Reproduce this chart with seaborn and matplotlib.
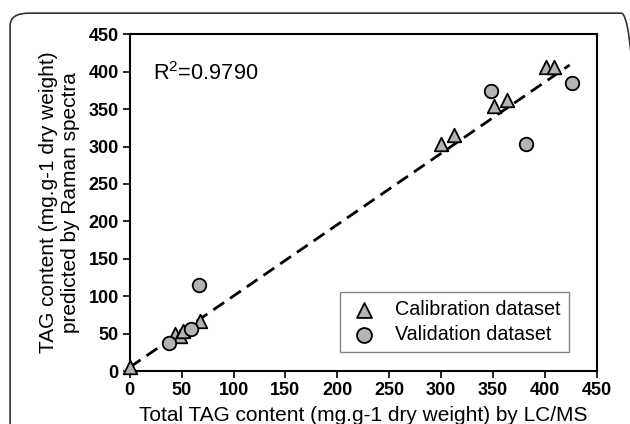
import numpy as np
import pandas as pd
import seaborn as sns
import matplotlib.pyplot as plt
from matplotlib.patches import FancyBboxPatch

# valores (LC/MS x Raman)
calib_x = [0, 44, 48, 51, 68, 300, 313, 351, 364, 401, 409]
calib_y = [5, 50, 47, 53, 67, 304, 315, 354, 362, 406, 406]
valid_x = [38, 59, 67, 348, 382, 426]
valid_y = [38, 56, 115, 374, 303, 385]
# reta de ajuste (extremos)
fit_x = [0, 424]
fit_y = [5, 409]
r2_text = "R$^2$=0.9790"

sns.set_style('ticks')
plt.rcParams['font.family'] = ['Liberation Sans', 'DejaVu Sans']
plt.rcParams['mathtext.fontset'] = 'custom'
plt.rcParams['mathtext.rm'] = 'Liberation Sans'
for k in ['text.color', 'axes.labelcolor', 'xtick.color', 'ytick.color']:
    plt.rcParams[k] = 'black'

fig = plt.figure(figsize=(6.3, 4.24), dpi=100)
ax = fig.add_axes([0.206, 0.125, 0.741, 0.794])

calib = pd.DataFrame({'x': calib_x, 'y': calib_y})
valid = pd.DataFrame({'x': valid_x, 'y': valid_y})
fit = pd.DataFrame({'x': fit_x, 'y': fit_y})

sns.lineplot(data=fit, x='x', y='y', ax=ax, color='black', lw=2.0,
             linestyle=(0, (4.7, 2.6)), zorder=2)
sns.scatterplot(data=calib, x='x', y='y', ax=ax, marker='^', s=95,
                color='#b3b3b3', edgecolor='black', linewidth=1.3,
                label='Calibration dataset', zorder=3, clip_on=False)
sns.scatterplot(data=valid, x='x', y='y', ax=ax, marker='o', s=95,
                color='#b3b3b3', edgecolor='black', linewidth=1.3,
                label='Validation dataset', zorder=3, clip_on=False)

ax.set_xlim(0, 450)
ax.set_ylim(0, 450)
ax.set_xticks(np.arange(0, 451, 50))
ax.set_yticks(np.arange(0, 451, 50))
for s in ax.spines.values():
    s.set_linewidth(1.5)
    s.set_color('black')
ax.tick_params(direction='out', length=5, width=1.2, labelsize=13, pad=3)
for t in ax.get_xticklabels() + ax.get_yticklabels():
    t.set_fontweight('bold')

ax.set_xlabel('Total TAG content (mg.g-1 dry weight) by LC/MS', fontsize=15, labelpad=5)
ax.set_ylabel('TAG content (mg.g-1 dry weight)\npredicted by Raman spectra', fontsize=15, labelpad=6)

ax.text(0.049, 0.864, r2_text, transform=ax.transAxes, fontsize=15.7, va='baseline')

leg = ax.legend(loc='upper left', bbox_to_anchor=(0.540, 0.311), bbox_transform=fig.transFigure,
                fontsize=14.2, frameon=True, fancybox=False, edgecolor='#666666',
                handletextpad=0.8, borderpad=0.4, labelspacing=0.3, markerscale=1.1,
                borderaxespad=0, handlelength=1.6)
leg.get_frame().set_linewidth(1.0)

# moldura arredondada externa
box = FancyBboxPatch((0.016, -0.05), 1.0, 1.019, boxstyle='round,pad=0,rounding_size=0.03',
                     transform=fig.transFigure, fill=False, edgecolor='#333333', lw=1.2,
                     clip_on=False)
fig.patches.append(box)

plt.savefig('out.png', format='png', dpi=100)
